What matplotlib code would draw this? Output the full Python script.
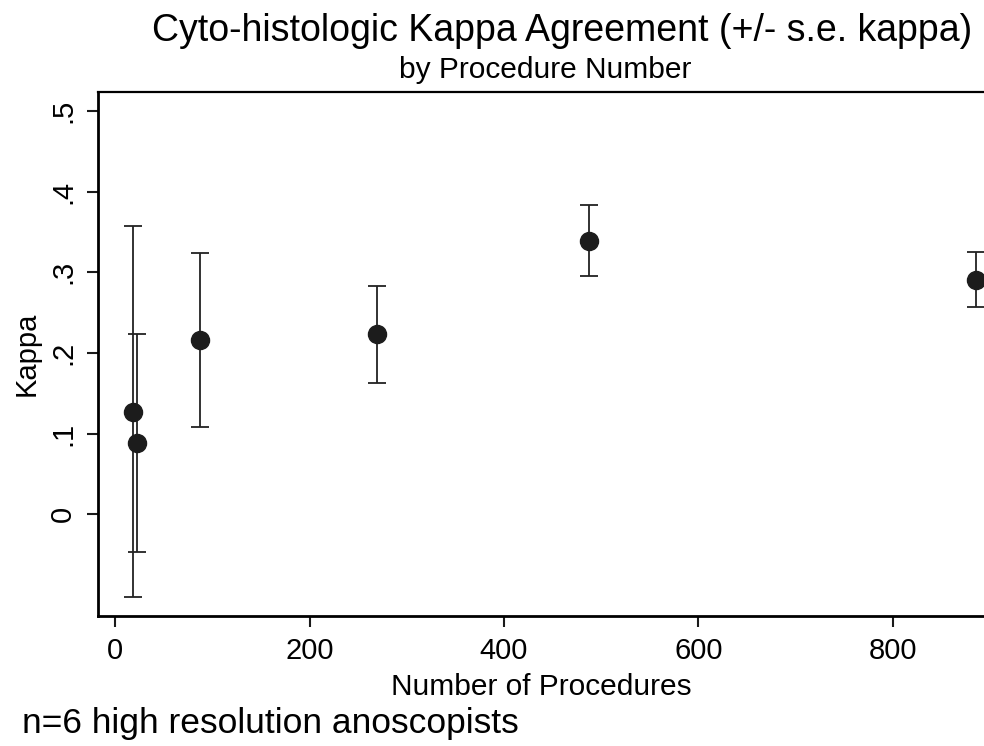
import matplotlib
matplotlib.use("Agg")
import matplotlib.pyplot as plt

# kappa by number of procedures, +/- s.e.
procedures = [18, 23, 87, 269, 487, 885]
kappa = [0.127, 0.088, 0.216, 0.223, 0.339, 0.291]
kappa_se = [0.230, 0.135, 0.108, 0.060, 0.044, 0.034]

xticks = [0, 200, 400, 600, 800]
yticks = [0, 0.1, 0.2, 0.3, 0.4, 0.5]
ytick_labels = ["0", ".1", ".2", ".3", ".4", ".5"]

plt.rcParams['font.family'] = ['Liberation Sans', 'DejaVu Sans']

fig = plt.figure(figsize=(9.84, 7.46), dpi=100)
ax = fig.add_axes([98 / 984, 130 / 746, 886 / 984, 524 / 746])

ax.errorbar(procedures, kappa, yerr=kappa_se, fmt='o', color='#1c1c1c',
            markersize=13, ecolor='#222222', elinewidth=1.3, capsize=6.5,
            capthick=1.3)

ax.set_xlim(-17.5, 893.6)
ax.set_ylim(-0.126, 0.5236)

ax.set_xticks(xticks)
ax.set_xticklabels([str(t) for t in xticks], fontsize=21)
ax.set_yticks(yticks)
ax.set_yticklabels(ytick_labels, fontsize=21, rotation=90, va='center')

ax.spines['right'].set_visible(False)
ax.spines['left'].set_linewidth(2.0)
ax.spines['bottom'].set_linewidth(2.0)
ax.spines['top'].set_linewidth(1.6)
ax.tick_params(axis='both', length=8, width=1.5, color='#1a1a1a', pad=7)

ax.set_xlabel("Number of Procedures", fontsize=21.5, labelpad=6)
ax.set_ylabel("Kappa", fontsize=21, labelpad=6)

fig.text(562 / 984, 1 - 31 / 746, "Cyto-histologic Kappa Agreement (+/- s.e. kappa)",
         ha='center', va='center', fontsize=27)
fig.text(545 / 984, 1 - 70 / 746, "by Procedure Number",
         ha='center', va='center', fontsize=21.5)
fig.text(22 / 984, 1 - 724 / 746, "n=6 high resolution anoscopists",
         ha='left', va='center', fontsize=25.5)

fig.savefig("out.png", dpi=100, facecolor='white')
